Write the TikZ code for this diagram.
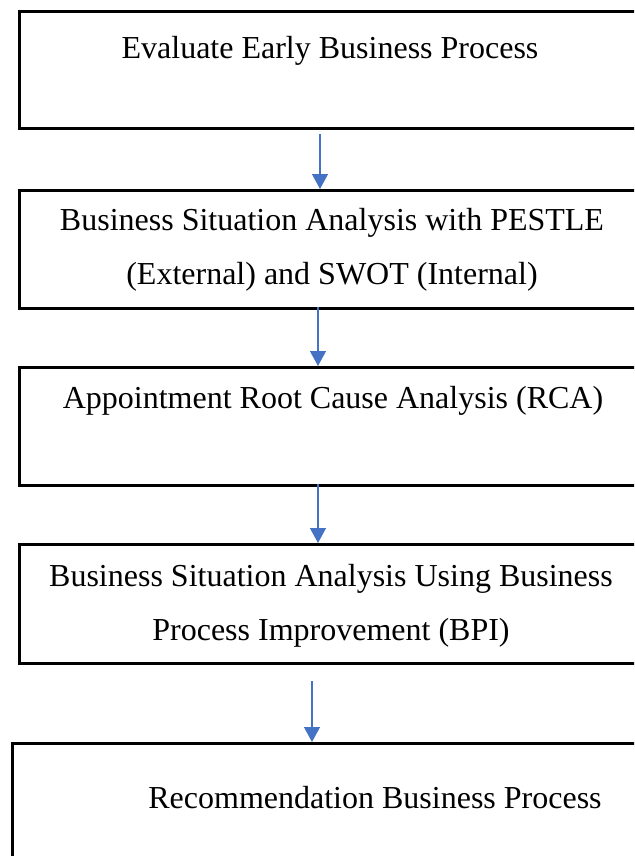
\documentclass[tikz,border=0pt]{standalone}
\usepackage{fontspec}
\setmainfont{Liberation Serif}
\usetikzlibrary{arrows.meta}
\definecolor{flowblue}{HTML}{4472C4}
\begin{document}
\begin{tikzpicture}[x=1pt,y=-1pt,
  stagebox/.style={draw=black,line width=2.6pt,inner sep=0pt,anchor=north west},
  stagetext/.style={font=\fontsize{32}{54}\selectfont,align=center,inner sep=0pt,anchor=center},
  flow/.style={draw=flowblue,line width=1.3pt,-{Triangle[width=16pt,length=15pt]}}]
\useasboundingbox (0,0) rectangle (634,856);
\clip (0,0) rectangle (634,856);
% stage boxes (they run past the right edge of the page)
\node[stagebox,minimum width=660pt,minimum height=117pt] (b1) at (18,10) {};
\node[stagebox,minimum width=660pt,minimum height=118pt] (b2) at (18,189) {};
\node[stagebox,minimum width=660pt,minimum height=118pt] (b3) at (18,366) {};
\node[stagebox,minimum width=660pt,minimum height=119pt] (b4) at (18,543) {};
\node[stagebox,minimum width=680pt,minimum height=160pt] (b5) at (11,742) {};
% labels
\node[stagetext] (t1) at (330,51) {Evaluate Early Business Process};
\node[stagetext] (t2) at (332,250) {Business Situation Analysis with PESTLE\\(External) and SWOT (Internal)};
\node[stagetext] (t3) at (333,401) {Appointment Root Cause Analysis (RCA)};
\node[stagetext] (t4) at (331,606) {Business Situation Analysis Using Business\\Process Improvement (BPI)};
\node[stagetext] (t5) at (375,798) {Recommendation Business Process};
% connectors
\coordinate (a1) at (320,134);
\coordinate (a2) at (318,307);
\coordinate (a3) at (318,484);
\coordinate (a4) at (312,681);
\draw[flow] (a1) -- (a1 |- b2.north);
\draw[flow] (a2) -- (a2 |- b3.north);
\draw[flow] (a3) -- (a3 |- b4.north);
\draw[flow] (a4) -- (a4 |- b5.north);
\end{tikzpicture}
\end{document}
